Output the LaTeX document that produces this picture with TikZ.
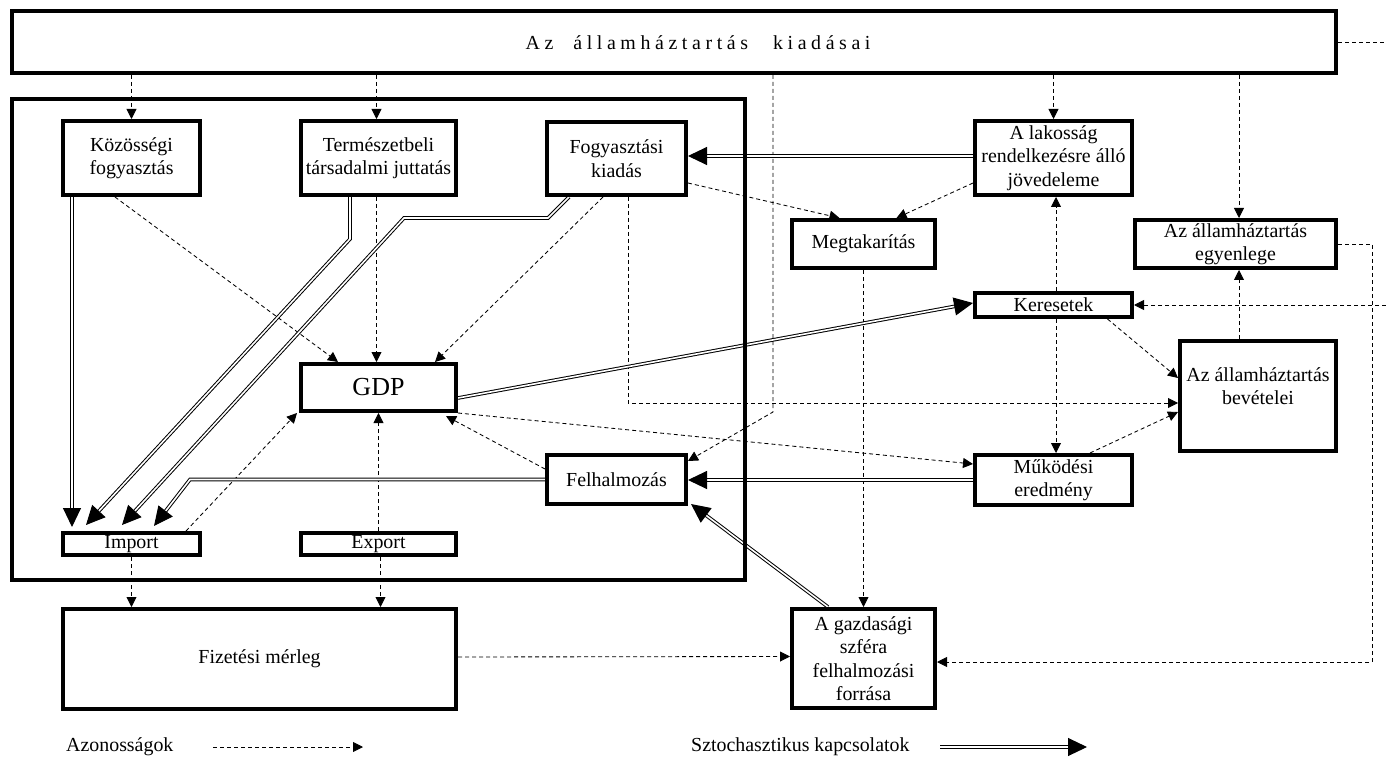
\documentclass[tikz,border=0pt]{standalone}
\usepackage{fontspec}
\setmainfont{Liberation Serif}
\usetikzlibrary{arrows.meta,backgrounds}
\begin{document}
\begin{tikzpicture}[x=1pt,y=-1pt,
  font=\fontsize{19.9}{23.5}\selectfont,
  box/.style={draw, line width=4pt, fill=white, inner sep=0pt, align=center},
  idarrow/.style={draw, line width=0.85pt, dash pattern=on 4pt off 3pt, -{Triangle[length=10pt,width=10pt]}},
  idline/.style={draw, line width=0.85pt, dash pattern=on 4pt off 3pt},
  starrow/.style={draw, double, line width=1pt, double distance=1.6pt, -{Triangle[length=19pt,width=18pt]}}]
\useasboundingbox (0,0) rectangle (1386,759);

% frame and boxes
\node[draw, line width=4.5pt, inner sep=0pt, minimum width=733pt, minimum height=481pt] (frame) at (378.5,339.5) {};
\node[box, minimum width=1324pt, minimum height=62pt] (top) at (674,42) {};
\node (toptext) at (698,43) {{\spaceskip=4.6pt plus 0pt minus 0pt A z\hspace{20pt}á l l a m h á z t a r t á s\hspace{25pt}k i a d á s a i}};
\node[box, minimum width=137pt, minimum height=74pt] (kozos) at (131.5,158) {Közösségi\\fogyasztás};
\node[box, minimum width=155pt, minimum height=74pt] (term) at (378.5,158) {Természetbeli\\társadalmi juttatás};
\node[box, minimum width=139pt, minimum height=73pt] (fog) at (616.5,158.5) {Fogyasztási\\kiadás};
\node[box, minimum width=157pt, minimum height=74pt] (lak) at (1053.5,158) {A lakosság\\rendelkezésre álló\\jövedeleme};
\node[box, minimum width=143pt, minimum height=48pt] (meg) at (863.5,244) {Megtakarítás};
\node[box, minimum width=201pt, minimum height=48pt] (egy) at (1235.5,244) {Az államháztartás\\egyenlege};
\node[box, minimum width=157pt, minimum height=24pt] (ker) at (1053.5,305) {Keresetek};
\node[box, minimum width=156pt, minimum height=110pt] (bev) at (1258,396) {};
\node[align=center, inner sep=0pt] (bevtext) at ([yshift=10pt]bev.center) {Az államháztartás\\bevételei};
\node[box, minimum width=157pt, minimum height=50pt] (muk) at (1053.5,480) {Működési\\eredmény};
\node[box, minimum width=155pt, minimum height=47pt] (gdp) at (378.5,387.5) {\fontsize{26}{30}\selectfont GDP};
\node[box, minimum width=139pt, minimum height=49pt] (felh) at (616.5,479.5) {Felhalmozás};
\node[box, minimum width=137pt, minimum height=22pt] (imp) at (131.5,544) {Import};
\node[box, minimum width=155pt, minimum height=22pt] (exp) at (378.5,544) {Export};
\node[box, minimum width=393pt, minimum height=100pt] (fiz) at (259.5,659) {Fizetési mérleg};
\node[box, minimum width=143pt, minimum height=99pt] (gaz) at (863.5,658.5) {A gazdasági\\szféra\\felhalmozási\\forrása};

% helper coordinates
\coordinate (b5) at (773,412);
\coordinate (re1) at (1386,43);
\coordinate (re2) at (1386,305);
\coordinate (c7) at (1372,662);
\coordinate (xb) at ([xshift=3.5pt]egy.south);
\coordinate (kx) at ([xshift=2.5pt]ker.center);
\coordinate (fx) at ([xshift=11.5pt]fog.south);
\coordinate (exx) at ([xshift=2pt]exp.south);
\coordinate (kx2) at ([xshift=-59.5pt]kozos.south);
\coordinate (kx3) at (kx2 |- imp.north);
\coordinate (d1) at (548,218);
\coordinate (d2) at (404,218);
\coordinate (e1) at (190,479.5);
\coordinate (lkw) at ([yshift=2pt]lak.west);

\begin{scope}[on background layer]
% identities (dashed)
\draw[idarrow] (kozos.north |- top.south) -- (kozos.north);
\draw[idarrow] ([xshift=-2pt]term.north |- top.south) -- ([xshift=-2pt]term.north);
\draw[idarrow] (lak.north |- top.south) -- (lak.north);
\draw[idarrow] (xb |- top.south) -- (xb |- egy.north);
\draw[idarrow] (top.south -| b5) -- (b5) -- ([yshift=-8pt]felh.north east);
\draw[idline] (top.east) -- (top.east -| re1);
\draw[idarrow] (re2) -- (ker.east);
\draw[idarrow] (egy.east) -| (c7) -- (c7 -| gaz.east);
\draw[idarrow] (xb |- bev.north) -- (xb);
\draw[idarrow] ([xshift=54pt]ker.south) -- ([yshift=18pt]bev.west);
\draw[idarrow] (kx |- ker.north) -- (kx |- lak.south);
\draw[idarrow] (kx |- ker.south) -- (kx |- muk.north);
\draw[idarrow] ([yshift=14pt]lak.south west) -- ([xshift=33pt]meg.north);
\draw[idarrow] ([yshift=14pt]fog.south east) -- ([xshift=-24pt]meg.north);
\draw[idarrow] (meg.south) -- (gaz.north);
\draw[idarrow] (fx) |- ([yshift=-7pt]bev.west);
\draw[idarrow] ([xshift=-13.5pt]fog.south) -- ([xshift=56.5pt]gdp.north);
\draw[idarrow] ([xshift=-2pt]term.south) -- ([xshift=-2pt]gdp.north);
\draw[idarrow] ([xshift=-16.5pt]kozos.south) -- ([xshift=-40.5pt]gdp.north);
\draw[idarrow] ([xshift=-16pt]imp.north east) -- ([xshift=-2pt]gdp.south west);
\draw[idarrow] (exp.north) -- (gdp.south);
\draw[idarrow] (exx) -- (exx |- fiz.north);
\draw[idarrow] (imp.south) -- (imp.south |- fiz.north);
\draw[idarrow] ([yshift=2pt]fiz.east) -- ([yshift=2pt]gaz.west);
\draw[idarrow] ([yshift=-16pt]felh.north west) -- ([xshift=-12pt,yshift=-3pt]gdp.south east);
\draw[idarrow] (gdp.south east) -- ([yshift=16pt]muk.west);
\draw[idarrow] ([xshift=36.5pt]muk.north) -- ([yshift=-16pt]bev.west);
% stochastic (double)
\draw[starrow] (lkw) -- (lkw -| fog.east);
\draw[starrow] (kx2) -- ([yshift=4pt]kx3);
\draw[starrow] ([xshift=-28.5pt]term.south) -- ++(0,42) -- ([xshift=25pt,yshift=6pt]imp.north west);
\draw[starrow] ([xshift=24pt]fog.south west) -- (d1) -- (d2) -- ([xshift=61pt,yshift=6pt]imp.north west);
\draw[starrow] (felh.west) -- (e1) -- ([xshift=93pt,yshift=5pt]imp.north west);
\draw[starrow] (muk.west) -- (muk.west -| felh.east);
\draw[starrow] ([xshift=-35.5pt]gaz.north) -- ([xshift=3pt,yshift=2pt]felh.south east);
\draw[starrow] ([yshift=-10.5pt]gdp.east) -- ([yshift=2pt]ker.west);
\end{scope}

% legend
\node[anchor=west, inner sep=0pt] (leg1) at (66,747) {Azonosságok};
\coordinate (l1a) at (213,747);
\coordinate (l1b) at (363,747);
\draw[idarrow] (l1a) -- (l1b);
\node[anchor=west, inner sep=0pt] (leg2) at (691,747) {Sztochasztikus kapcsolatok};
\coordinate (l2a) at (940,747);
\coordinate (l2b) at (1087,747);
\draw[starrow] (l2a) -- (l2b);
\end{tikzpicture}
\end{document}
